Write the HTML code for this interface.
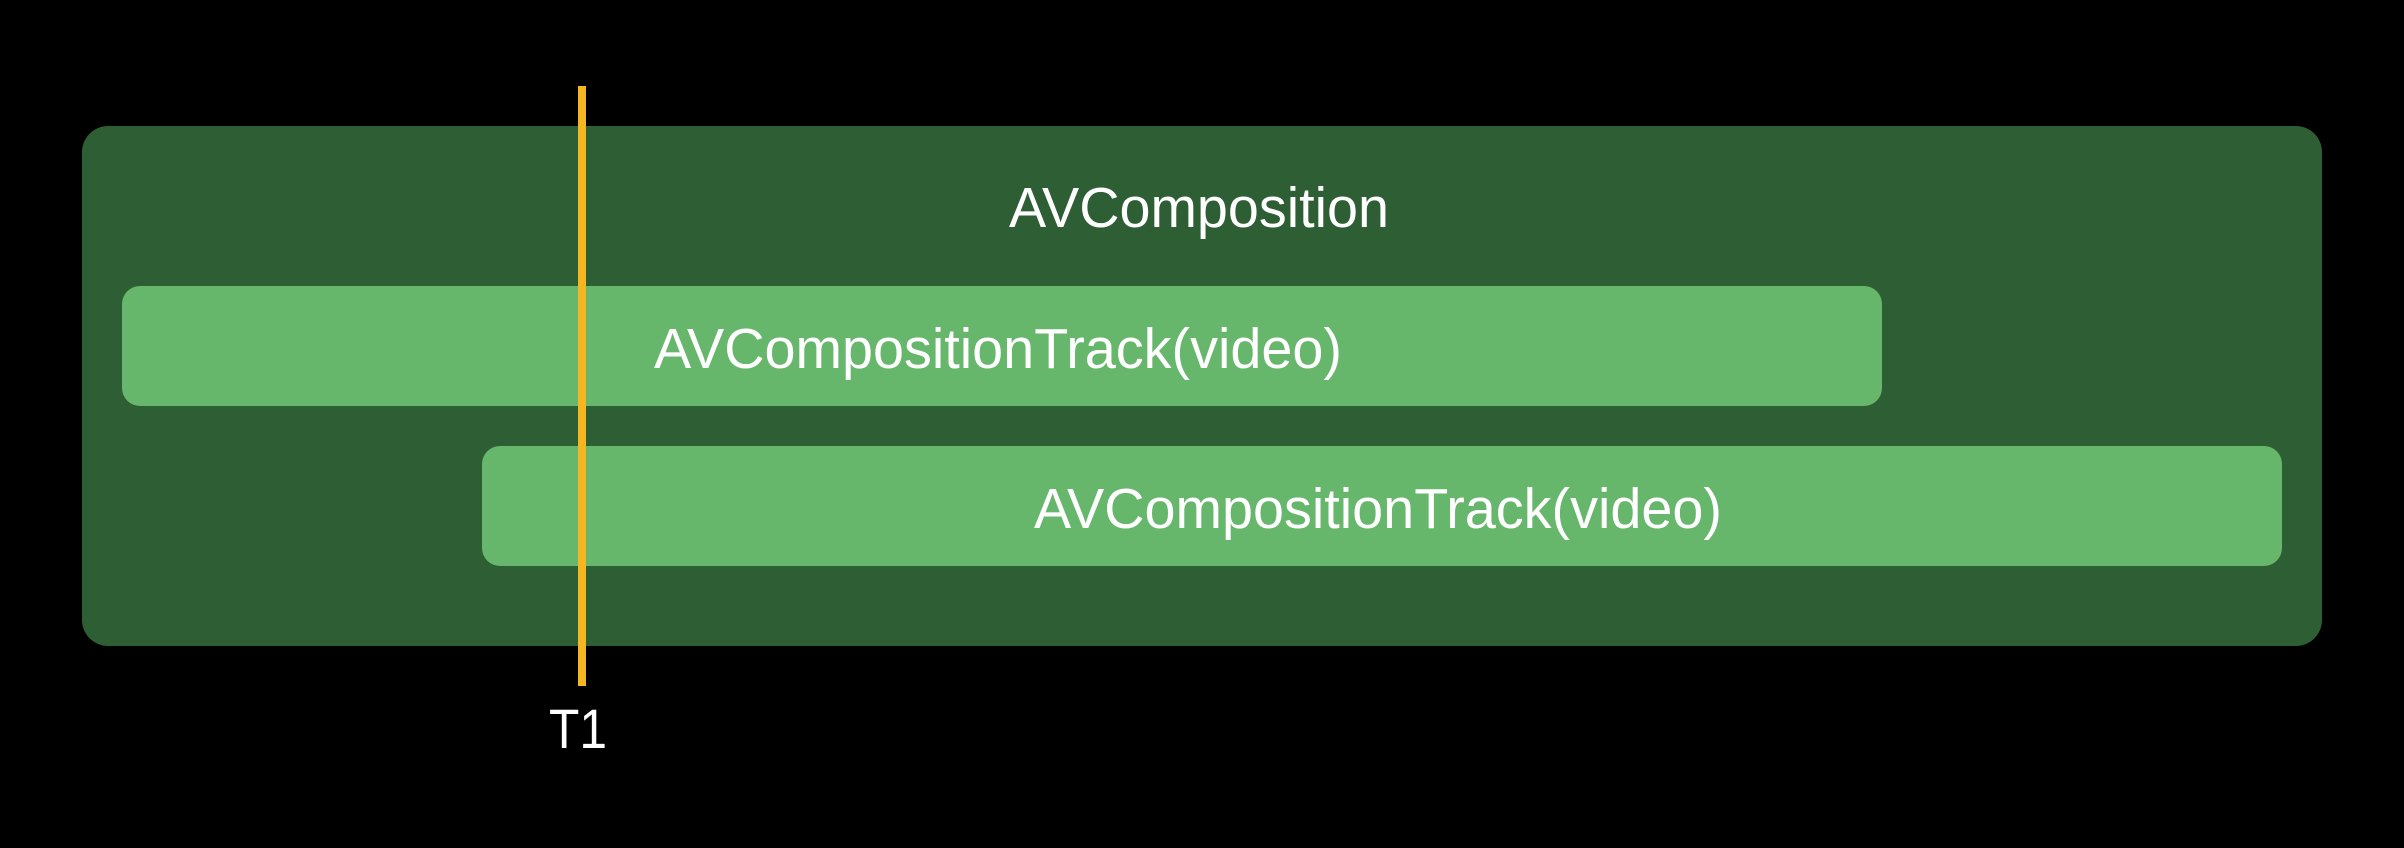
<!DOCTYPE html>
<html><head><meta charset="utf-8"><style>
html,body{margin:0;padding:0;background:#000;}
svg{display:block}
text{font-family:"Liberation Sans",sans-serif;fill:#fff;}
</style></head><body>
<svg width="2404" height="848" viewBox="0 0 2404 848" xmlns="http://www.w3.org/2000/svg">
<rect x="0" y="0" width="2404" height="848" fill="#000"/>
<rect x="82" y="126" width="2240" height="520" rx="26" fill="#2e5e34"/>
<rect x="122" y="286" width="1760" height="120" rx="18" fill="#66b76c"/>
<rect x="482" y="446" width="1800" height="120" rx="18" fill="#66b76c"/>
<text x="1199" y="227" font-size="57" text-anchor="middle" textLength="380" lengthAdjust="spacingAndGlyphs">AVComposition</text>
<text x="998" y="368" font-size="57" text-anchor="middle" textLength="688" lengthAdjust="spacingAndGlyphs">AVCompositionTrack(video)</text>
<text x="1378" y="528" font-size="57" text-anchor="middle" textLength="688" lengthAdjust="spacingAndGlyphs">AVCompositionTrack(video)</text>
<rect x="578" y="86" width="8" height="600" fill="#f4b621"/>
<text x="578" y="748" font-size="56" text-anchor="middle" textLength="58" lengthAdjust="spacingAndGlyphs">T1</text>
</svg>
</body></html>
